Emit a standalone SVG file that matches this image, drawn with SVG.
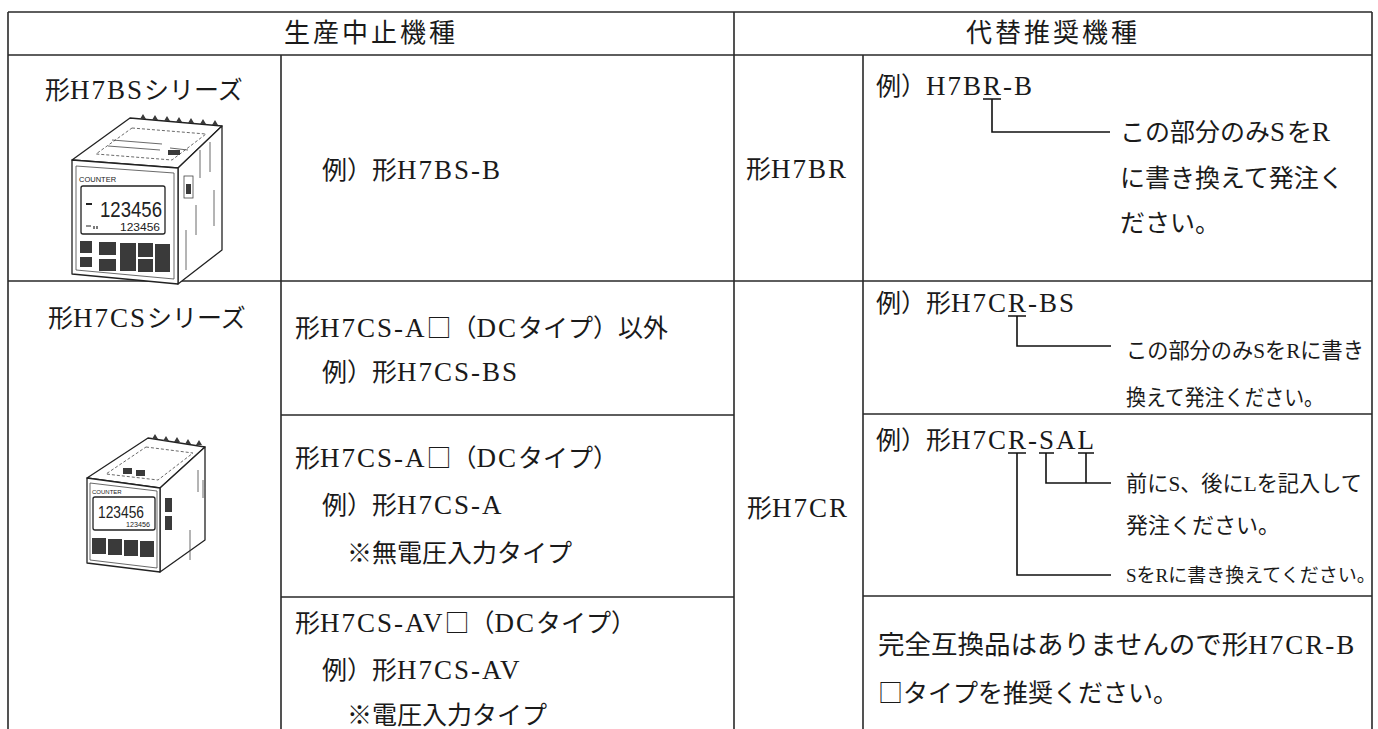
<svg xmlns="http://www.w3.org/2000/svg" width="1378" height="729" viewBox="0 0 1378 729">
<style>
.t{font-family:"Liberation Serif","Noto Sans CJK JP",serif;font-size:25px;fill:#1a1a1a}
.l{font-size:27px;letter-spacing:2px}
.j{font-family:"Noto Sans CJK JP",sans-serif}
.h{font-size:26px;letter-spacing:3px}
.s{font-size:22px}
.xs{font-size:19px}
.big{font-size:26.5px}
.grid{stroke:#2a2a2a;stroke-width:1.6;fill:none}
.conn{stroke:#111;stroke-width:1.6;fill:none}
.dev{fill:#fff;stroke:#222;stroke-width:1.3;stroke-linejoin:round}
.thin{fill:none;stroke:#444;stroke-width:0.8}
.dk{fill:#3a3a3a}
.lcd{font-family:"Liberation Sans",sans-serif;fill:#222}
</style>
<rect width="1378" height="729" fill="#fff"/>

<g id="grid" class="grid">
<path d="M8,12H1372M8,55H1372M8,12V729M1372,12V729M734,12V729M281,55V729M863,55V729M8,281H1372"/>
<path d="M281,415H734M863,414H1372M281,597H734M863,596H1372"/>
</g>

<g id="header-discontinued"><text class="t h" x="371" y="42" text-anchor="middle">生産中止機種</text></g>
<g id="header-replacement"><text class="t h" x="1053" y="42" text-anchor="middle">代替推奨機種</text></g>

<g id="series-h7bs">
<text class="t" x="45" y="99">形<tspan class="l">H7BS</tspan>シリーズ</text>
<g id="photo-h7bs">
<polygon class="dev" points="130,118 222,126 178,168 72,160"/>
<polygon class="thin" points="132,128 206,134 172,160 96,154" stroke-dasharray="3 2"/>
<path class="thin" d="M112,140l50,4M108,146l52,4M170,148l18,2"/>
<rect class="dk" x="168" y="150" width="12" height="5"/>
<path class="dk" d="M140,119l3,-5l3,5zM152,120l3,-5l3,5zM164,121l3,-5l3,5zM176,122l3,-5l3,5zM188,123l3,-5l3,5zM200,124l3,-5l3,5zM212,125l3,-5l3,5z"/>
<polygon class="dev" points="178,168 222,126 222,250 178,284"/>
<rect class="thin" x="184" y="176" width="9" height="22"/>
<path class="thin" d="M200,150v28M210,142v30M196,205v30M214,190v36M186,230v40"/>
<rect class="dk" x="186" y="184" width="5" height="10"/>
<polygon class="dev" points="72,160 178,168 178,284 72,274"/>
<polygon class="thin" points="76,166 174,173 174,279 76,270"/>
<text class="lcd" x="79" y="182" font-size="7.5">COUNTER</text>
<rect class="dev" x="81" y="186" width="84" height="48" rx="2"/>
<path d="M86,204h6" stroke="#222" stroke-width="2"/>
<text class="lcd" x="100" y="217" font-size="22" textLength="62" lengthAdjust="spacingAndGlyphs">123456</text>
<path d="M86,226h5M94,226v3M97,226v3" stroke="#222" stroke-width="1.2"/>
<text class="lcd" x="120" y="231" font-size="11" textLength="40" lengthAdjust="spacingAndGlyphs">123456</text>
<rect class="dk" x="80" y="241" width="12" height="12"/>
<rect class="dk" x="80" y="257" width="12" height="10"/>
<rect class="dk" x="99" y="242" width="17" height="13"/>
<rect class="dk" x="99" y="259" width="17" height="12"/>
<rect class="dk" x="120" y="243" width="16" height="28"/>
<rect class="dk" x="138" y="243" width="15" height="14"/>
<rect class="dk" x="138" y="259" width="15" height="13"/>
<rect class="dk" x="155" y="244" width="15" height="28"/>
</g>
</g>

<g id="example-h7bs">
<text class="t" x="322" y="179">例）形<tspan class="l">H7BS-B</tspan></text>
</g>
<g id="model-h7br">
<text class="t" x="746" y="178">形<tspan class="l">H7BR</tspan></text>
</g>
<g id="note-h7br">
<text class="t" x="876" y="95">例）<tspan class="l">H7BR-B</tspan></text>
<text class="t" x="1120" y="141">この部分のみ<tspan class="l">S</tspan>を<tspan class="l">R</tspan></text>
<text class="t" x="1120" y="187">に書き換えて発注く</text>
<text class="t" x="1120" y="232">ださい。</text>
</g>

<g id="series-h7cs">
<text class="t" x="48" y="327">形<tspan class="l">H7CS</tspan>シリーズ</text>
<g id="photo-h7cs">
<polygon class="dev" points="148,438 205,447 160,488 87,478"/>
<polygon class="thin" points="146,447 193,453 158,480 106,474" stroke-dasharray="3 2"/>
<path class="dk" d="M152,439l3,-5l3,5zM163,441l3,-5l3,5zM174,442l3,-5l3,5zM185,444l3,-5l3,5zM196,445l3,-5l3,5z"/>
<rect class="dk" x="123" y="468" width="9" height="6"/>
<rect class="dk" x="136" y="470" width="9" height="6"/>
<polygon class="dev" points="160,488 205,447 205,540 160,572"/>
<rect class="dk" x="165" y="498" width="7" height="14"/>
<rect class="dk" x="165" y="516" width="7" height="14"/>
<path class="thin" d="M198,470v22M203,480v18M190,530v30"/>
<polygon class="dev" points="87,478 160,488 160,572 87,563"/>
<polygon class="thin" points="90,483 157,491 157,568 90,560"/>
<text class="lcd" x="92" y="494" font-size="6">COUNTER</text>
<rect class="dev" x="93" y="497" width="62" height="33" rx="2"/>
<text class="lcd" x="98" y="518" font-size="16" textLength="46" lengthAdjust="spacingAndGlyphs">123456</text>
<text class="lcd" x="126" y="527" font-size="7" textLength="24" lengthAdjust="spacingAndGlyphs">123456</text>
<rect class="dk" x="92" y="538" width="14" height="16"/>
<rect class="dk" x="108" y="539" width="14" height="16"/>
<rect class="dk" x="124" y="540" width="14" height="16"/>
<rect class="dk" x="140" y="541" width="14" height="16"/>
</g>
</g>

<g id="h7cs-other">
<text class="t" x="295" y="337">形<tspan class="l">H7CS-A</tspan><tspan class="j">□</tspan>（<tspan class="l">DC</tspan>タイプ）以外</text>
<text class="t" x="322" y="381">例）形<tspan class="l">H7CS-BS</tspan></text>
</g>
<g id="h7cs-a">
<text class="t" x="295" y="467">形<tspan class="l">H7CS-A</tspan><tspan class="j">□</tspan>（<tspan class="l">DC</tspan>タイプ）</text>
<text class="t" x="322" y="514">例）形<tspan class="l">H7CS-A</tspan></text>
<text class="t" x="347" y="562">※無電圧入力タイプ</text>
</g>
<g id="h7cs-av">
<text class="t" x="295" y="632">形<tspan class="l">H7CS-AV</tspan><tspan class="j">□</tspan>（<tspan class="l">DC</tspan>タイプ）</text>
<text class="t" x="322" y="679">例）形<tspan class="l">H7CS-AV</tspan></text>
<text class="t" x="347" y="724">※電圧入力タイプ</text>
</g>

<g id="model-h7cr">
<text class="t" x="747" y="517">形<tspan class="l">H7CR</tspan></text>
</g>
<g id="note-h7cr-bs">
<text class="t" x="876" y="312">例）形<tspan class="l">H7CR-BS</tspan></text>
<text class="t s" x="1126" y="358" textLength="238" lengthAdjust="spacingAndGlyphs">この部分のみSをRに書き</text>
<text class="t s" x="1126" y="405" textLength="198" lengthAdjust="spacingAndGlyphs">換えて発注ください。</text>
</g>
<g id="note-h7cr-sal">
<text class="t" x="876" y="449">例）形<tspan class="l">H7CR-SAL</tspan></text>
<text class="t s" x="1126" y="491" textLength="236" lengthAdjust="spacingAndGlyphs">前にS、後にLを記入して</text>
<text class="t s" x="1126" y="533">発注ください。</text>
<text class="t xs" x="1126" y="582">SをRに書き換えてください。</text>
</g>
<g id="note-h7cr-av">
<text class="t big" x="878" y="654">完全互換品はありませんので形<tspan class="l">H7CR-B</tspan></text>
<text class="t" x="878" y="702"><tspan class="j">□</tspan>タイプを推奨ください。</text>
</g>

<g id="connectors" class="conn">
<path d="M983,99H1001M992,99V132H1110"/>
<path d="M1008,316H1026M1017,316V346H1111"/>
<path d="M1008,453H1026M1039,453H1054M1078,453H1094"/>
<path d="M1017,453V575H1111"/>
<path d="M1046,453V483H1111M1086,453V483"/>
</g>
</svg>
